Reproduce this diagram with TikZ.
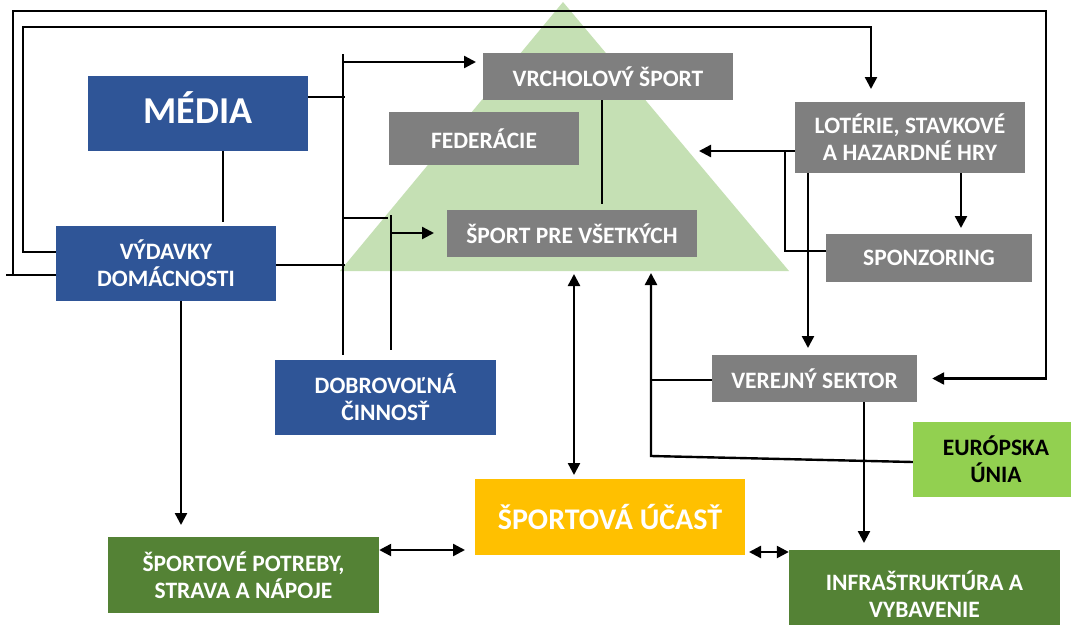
\documentclass[tikz,border=0pt]{standalone}
\usepackage{fontspec}
\setmainfont{Carlito}
\usetikzlibrary{arrows.meta}
\definecolor{cblue}{HTML}{2F5597}
\definecolor{cgrey}{HTML}{7F7F7F}
\definecolor{cdgreen}{HTML}{548235}
\definecolor{clgreen}{HTML}{92D050}
\definecolor{cyellow}{HTML}{FFC000}
\definecolor{ctri}{HTML}{C5E0B4}
\begin{document}
\begin{tikzpicture}[x=1pt,y=-1pt,
  box/.style={rectangle, inner sep=0pt, align=center, text=white,
    font=\bfseries\fontsize{23.5}{27}\selectfont},
  bluebox/.style={box, fill=cblue},
  greybox/.style={box, fill=cgrey},
  greenbox/.style={box, fill=cdgreen},
  link/.style={line width=2.4pt},
  arr/.style={link, -{Triangle[length=12pt,width=12pt]}},
  darr/.style={link, {Triangle[length=12pt,width=12pt]}-{Triangle[length=12pt,width=12pt]}}]
\useasboundingbox (0,0) rectangle (1071,624);
\clip (0,0) rectangle (1071,624);
\fill[white] (0,0) rectangle (1071,624);

% pyramid of sport
\fill[ctri] (340,271) -- (563,2) -- (789,271) -- cycle;

% boxes
\node[bluebox, minimum width=220pt, minimum height=75pt] (media) at (198,113.5) {};
\node[text=white, font=\bfseries\fontsize{38}{44}\selectfont, inner sep=0pt] (mediatext) at (198,108) {MÉDIA};
\node[bluebox, minimum width=220pt, minimum height=75pt] (vyd) at (166,263.5) {VÝDAVKY\\DOMÁCNOSTI};
\node[bluebox, minimum width=221pt, minimum height=75pt] (dobr) at (385.5,397.5) {DOBROVOĽNÁ\\ČINNOSŤ};
\node[greenbox, minimum width=271pt, minimum height=76pt] (potreby) at (243.5,575) {ŠPORTOVÉ POTREBY,\\STRAVA A NÁPOJE};
\node[greybox, minimum width=190pt, minimum height=53pt] (fed) at (484,138.5) {FEDERÁCIE};
\node[greybox, minimum width=250pt, minimum height=47pt] (vrch) at (608,76.5) {VRCHOLOVÝ ŠPORT};
\node[greybox, minimum width=250pt, minimum height=47pt] (vsetci) at (572,233.5) {ŠPORT PRE VŠETKÝCH};
\node[greybox, minimum width=230pt, minimum height=71pt] (lot) at (910,137.5) {LOTÉRIE, STAVKOVÉ\\A HAZARDNÉ HRY};
\node[greybox, minimum width=206pt, minimum height=48pt] (sponz) at (929,258) {SPONZORING};
\node[greybox, minimum width=205pt, minimum height=47pt] (ver) at (814.5,378.5) {VEREJNÝ SEKTOR};
\node[box, fill=clgreen, text=black, minimum width=166pt, minimum height=75pt] (eu) at (996,459.5) {EURÓPSKA\\ÚNIA};
\node[box, fill=cyellow, minimum width=270pt, minimum height=76pt,
  font=\bfseries\fontsize{30}{35}\selectfont] (ucast) at (610,517) {ŠPORTOVÁ ÚČASŤ};
\node[greenbox, minimum width=271pt, minimum height=88pt] (infra) at (924.5,594) {INFRAŠTRUKTÚRA A\\VYBAVENIE};

% outer loops from household spending
\draw[arr] (vyd.west |- 0,275) -| (13,11) -| (1046,378.5) -- ([xshift=15pt]ver.east);
\draw[link] (13,275) -- (6,275);
\draw[arr] (vyd.west |- 0,252) -| (23,27) -| (871,89);

% media and household spending
\draw[link] (media.south -| 223,0) -- (223,222);
\draw[link] (343,54) -- (343,355);
\draw[link] (media.east |- 0,97) -- (345,97);
\draw[link] (vyd.east |- 0,265) -- (345,265);
\draw[arr] (343,62) -- (476,62);
\draw[link] (343,218) -- (388,218);
\draw[link] (391,215) -- (391,350);
\draw[arr] (391,233) -- (434,233);

% top sport and sport for all
\draw[link] (vrch.south -| 602,0) -- (602,204);

% lotteries, sponsoring, public sector
\draw[arr] (lot.west |- 0,151) -- (699,151);
\draw[link] (785,151) |- (sponz.west |- 0,251);
\draw[arr] (lot.south -| 961,0) -- (961,228);
\draw[arr] (lot.south -| 808,0) -- (808,348);
\draw[arr] (ver.south -| 864,0) -- (864,543);

% participation
\draw[darr] (574,274) -- (574,475);
\draw[arr] (eu.west |- 0,462) -- (651,456) -- (651,273);
\draw[link] (ver.west |- 0,380) -- (651,380);
\draw[darr] (potreby.east |- 0,550) -- (465,550);
\draw[darr] (749,552) -- (infra.west |- 0,552);
\draw[arr] (vyd.south -| 181,0) -- (181,525);
\end{tikzpicture}
\end{document}
